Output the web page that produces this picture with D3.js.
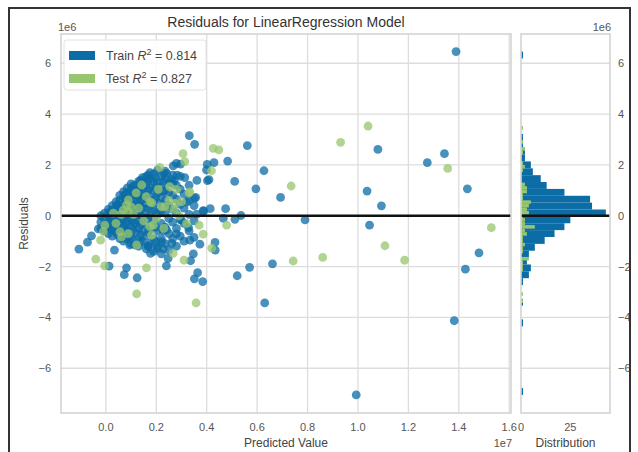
<!DOCTYPE html>
<html>
<head>
<meta charset="utf-8">
<script src="https://cdn.jsdelivr.net/npm/d3@7"></script>
<style>
  body { margin: 0; background: #fff; }
  text { font-family: "Liberation Sans", Arial, sans-serif; }
</style>
</head>
<body>
<div id="chart"></div>
<script>
// predicted values in units of 1e7, residuals in units of 1e6

// train points far from the dense blob
var trainSparse = [
  [1.389, 6.46], [0.331, 3.15], [0.352, 2.81], [0.561, 2.76], [1.079, 2.61], [1.343, 2.44],
  [1.275, 2.09], [0.483, 2.15], [0.627, 1.77], [0.429, 2.09], [0.402, 2.02], [0.511, 1.35],
  [0.595, 1.06], [0.693, 0.72], [1.036, 0.97], [1.434, 1.06], [1.093, 0.39], [0.475, 0.28],
  [0.536, 0.01], [0.512, -0.14], [0.466, -0.1], [0.79, -0.16], [1.046, -0.37], [1.48, -1.46],
  [1.426, -2.1], [1.382, -4.13], [0.993, -7.05], [0.57, -2.03], [0.661, -1.89], [0.521, -2.36],
  [0.63, -3.43], [0.364, -2.24], [0.351, -2.48], [0.384, -2.59], [0.336, -1.77], [0.347, -1.5],
  [0.373, -1.12], [0.433, -1.05], [0.434, -1.35], [0.328, -0.47], [0.28, -0.71], [0.24, -1.97],
  [0.247, -1.68], [0.124, -2.44], [0.073, -2.32], [0.082, -2.05], [0.013, -1.98], [0.034, -1.35],
  [-0.107, -1.31], [-0.073, -1.04], [-0.057, -0.79], [-0.03, -0.52], [0.361, 1.39], [0.409, 1.42],
  [0.313, 1.5], [0.356, 0.72], [0.388, 0.18], [0.36, 0.06], [0.267, 1.96], [0.296, 2.03],
  [0.23, 1.67], [0.283, 1.6], [0.399, 1.8], [0.26, 1.43], [0.32, 0.54], [0.3, -0.17],
  [0.333, -0.96], [0.261, -1.09], [0.221, -1.02], [0.204, -1.29], [0.177, -1.48], [0.168, -1.19],
  [0.095, -1.15], [0.241, -0.56], [0.27, 1.36], [0.351, 0.68], [0.386, 0.2], [0.28, 2.06],
  [0.241, 1.67], [0.414, 0.28], [0.403, 1.38]
];

// train points in the dense blob near the origin
var trainBlob = [
  [-0.02, -0.25], [-0.02, 0.0], [-0.02, -0.5],
  [-0.005, -0.6], [-0.005, -0.35], [-0.005, -0.1], [-0.005, 0.1],
  [0.01, -0.7], [0.01, -0.45], [0.01, -0.2], [0.01, 0.05], [0.01, 0.25],
  [0.025, -0.8], [0.025, -0.55], [0.025, -0.3], [0.025, -0.05], [0.025, 0.2], [0.025, 0.4],
  [0.04, -0.65], [0.04, -0.4], [0.04, -0.15], [0.04, 0.1], [0.04, 0.35], [0.04, 0.55],
  [0.055, -0.9], [0.055, -0.6], [0.055, -0.3], [0.055, 0.0], [0.055, 0.3], [0.055, 0.6], [0.055, 0.8],
  [0.07, -1.0], [0.07, -0.75], [0.07, -0.45], [0.07, -0.15], [0.07, 0.15], [0.07, 0.45], [0.07, 0.75], [0.07, 0.95],
  [0.085, -0.85], [0.085, -0.55], [0.085, -0.25], [0.085, 0.05], [0.085, 0.35], [0.085, 0.65], [0.085, 0.9], [0.085, 1.1],
  [0.1, -1.1], [0.1, -0.8], [0.1, -0.4], [0.1, -0.1], [0.1, 0.2], [0.1, 0.5], [0.1, 0.8], [0.1, 1.05], [0.1, 1.25],
  [0.115, -1.15], [0.115, -0.65], [0.115, -0.3], [0.115, 0.0], [0.115, 0.3], [0.115, 0.6], [0.115, 0.95], [0.115, 1.2],
  [0.13, -1.2], [0.13, -0.9], [0.13, -0.5], [0.13, -0.2], [0.13, 0.15], [0.13, 0.45], [0.13, 0.75], [0.13, 1.05], [0.13, 1.35],
  [0.145, -1.0], [0.145, -0.6], [0.145, -0.05], [0.145, 0.3], [0.145, 0.65], [0.145, 1.0], [0.145, 1.3], [0.145, 1.5],
  [0.16, -1.3], [0.16, -0.8], [0.16, -0.35], [0.16, 0.1], [0.16, 0.5], [0.16, 0.85], [0.16, 1.2], [0.16, 1.55],
  [0.175, -1.1], [0.175, -0.55], [0.175, 0.0], [0.175, 0.4], [0.175, 0.75], [0.175, 1.1], [0.175, 1.45], [0.175, 1.7],
  [0.19, -1.4], [0.19, -0.9], [0.19, -0.2], [0.19, 0.25], [0.19, 0.6], [0.19, 1.0], [0.19, 1.35], [0.19, 1.65],
  [0.205, -1.2], [0.205, -0.6], [0.205, 0.05], [0.205, 0.5], [0.205, 0.9], [0.205, 1.3], [0.205, 1.8],
  [0.22, -1.5], [0.22, -0.9], [0.22, -0.3], [0.22, 0.2], [0.22, 0.75], [0.22, 1.15], [0.22, 1.55],
  [0.235, -1.1], [0.235, -0.45], [0.235, 0.1], [0.235, 0.6], [0.235, 1.0], [0.235, 1.45], [0.235, 1.75],
  [0.25, -1.35], [0.25, -0.7], [0.25, -0.1], [0.25, 0.4], [0.25, 0.9], [0.25, 1.3],
  [0.265, -0.9], [0.265, -0.25], [0.265, 0.25], [0.265, 0.8], [0.265, 1.25], [0.265, 1.6],
  [0.28, -1.2], [0.28, -0.5], [0.28, 0.1], [0.28, 0.65], [0.28, 1.2],
  [0.295, -0.8], [0.295, -0.15], [0.295, 0.45], [0.295, 1.05], [0.295, 1.55],
  [0.31, -1.0], [0.31, -0.3], [0.31, 0.3], [0.31, 0.85],
  [0.33, -0.6], [0.33, 0.05], [0.33, 0.6], [0.33, 1.2],
  [0.35, -0.85], [0.35, -0.2], [0.35, 0.4],
  [0.0175, -0.55], [0.0175, -0.3], [0.0175, -0.05], [0.0175, 0.15],
  [0.0475, -0.75], [0.0475, -0.5], [0.0475, -0.2], [0.0475, 0.2], [0.0475, 0.45],
  [0.0775, -0.9], [0.0775, -0.6], [0.0775, -0.3], [0.0775, 0.0], [0.0775, 0.3], [0.0775, 0.6], [0.0775, 0.85],
  [0.1075, -0.95], [0.1075, -0.55], [0.1075, -0.2], [0.1075, 0.1], [0.1075, 0.4], [0.1075, 0.7], [0.1075, 1.0], [0.1075, 1.15],
  [0.1375, -1.05], [0.1375, -0.75], [0.1375, -0.35], [0.1375, 0.0], [0.1375, 0.35], [0.1375, 0.6], [0.1375, 0.9], [0.1375, 1.2], [0.1375, 1.4],
  [0.1675, -1.2], [0.1675, -0.65], [0.1675, -0.1], [0.1675, 0.3], [0.1675, 0.65], [0.1675, 1.0], [0.1675, 1.35], [0.1675, 1.6],
  [0.1975, -1.05], [0.1975, -0.45], [0.1975, 0.15], [0.1975, 0.7], [0.1975, 1.15], [0.1975, 1.5],
  [0.2275, -1.3], [0.2275, -0.6], [0.2275, 0.45], [0.2275, 0.95], [0.2275, 1.35]
];

var testPoints = [
  [1.04, 3.53], [0.931, 2.89], [1.356, 1.86], [0.735, 1.17], [0.426, 2.65], [0.448, 2.59],
  [0.306, 2.44], [0.313, 2.13], [1.529, -0.47], [1.107, -1.18], [1.185, -1.75], [0.86, -1.64],
  [0.743, -1.78], [0.479, -0.37], [0.42, -1.27], [0.386, -0.72], [0.37, -0.37], [0.358, -3.43],
  [0.122, -3.07], [0.161, -2.05], [-0.005, -1.97], [-0.04, -1.71], [-0.021, -0.96], [0.31, -1.75],
  [0.267, -1.48], [0.419, 1.77], [0.333, 0.94], [0.214, 1.9], [0.28, 1.04], [0.274, 0.49],
  [0.234, 0.35], [0.175, 0.55], [0.142, 1.21], [0.089, 0.62], [0.181, -0.76], [0.175, -0.43],
  [0.122, -1.15], [0.062, -0.83],
  [0.082, 0.42], [0.069, 0.22], [0.089, 0.16], [0.208, 1.04], [0.254, 1.14], [0.182, 0.51],
  [0.12, 0.9], [0.16, 0.75], [0.22, 0.36], [0.25, 0.6], [0.27, 0.25], [-0.004, -0.37],
  [-0.01, -0.63], [0.056, -0.63], [0.089, -0.7], [0.04, -0.3], [0.188, -0.37], [0.2, -0.1],
  [0.03, 0.1], [0.11, 0.05], [0.15, -0.2], [0.23, -0.5], [0.29, 0.0], [0.3, 0.55],
  [0.33, 0.9], [0.1, 0.35], [0.06, 0.05], [0.13, 0.3], [0.32, -0.3]
];

// train residual histogram, 50 bins from lowest to highest residual
var trainCounts = [
  1, 0, 0, 0, 0, 0, 0, 0, 0, 0,
  1, 0, 0, 1, 0, 0, 1, 4, 5, 3,
  4, 7, 12, 17, 22, 25, 43, 36, 35, 22,
  13, 10, 6, 5, 2, 2, 1, 1, 0, 0,
  0, 0, 0, 0, 0, 0, 0, 0, 0, 1
];

var xTicks = [0, 0.2, 0.4, 0.6, 0.8, 1.0, 1.2, 1.4, 1.6];
var yTicks = [-6, -4, -2, 0, 2, 4, 6];
var histTicks = [0, 25];
var trainR2 = '0.814';
var testR2 = '0.827';

var trainColor = '#0b6ca6';
var testColor = '#97c66f';

var svgWidth = 638;
var svgHeight = 452;

var svg = d3.select('#chart')
    .append('svg')
    .attr('width', svgWidth)
    .attr('height', svgHeight);

svg.append('rect')
    .attr('width', svgWidth)
    .attr('height', svgHeight)
    .attr('fill', '#fff');

// main plot area
var plotLeft = 61, plotRight = 511, plotTop = 34, plotBottom = 413;
var histLeft = 521, histRight = 610;

var trainPoints = trainSparse.concat(trainBlob);

var x = d3.scaleLinear().domain([-0.178, 1.607]).range([plotLeft, plotRight]);
var y = d3.scaleLinear().domain([-7.76, 7.15]).range([plotBottom, plotTop]);
var hx = d3.scaleLinear().domain([0, 45.1]).range([histLeft, histRight]);

var gridColor = '#dddddd';
var labelColor = '#555';

// grid
var grid = svg.append('g');
grid.selectAll('.vx')
    .data(xTicks)
    .enter()
    .append('line')
    .attr('x1', d => x(d)).attr('x2', d => x(d))
    .attr('y1', plotTop).attr('y2', plotBottom)
    .attr('stroke', gridColor)
    .attr('stroke-width', 1.3);
grid.selectAll('.hy')
    .data(yTicks)
    .enter()
    .append('line')
    .attr('x1', plotLeft).attr('x2', plotRight)
    .attr('y1', d => y(d)).attr('y2', d => y(d))
    .attr('stroke', gridColor)
    .attr('stroke-width', 1.3);
grid.selectAll('.hh')
    .data(yTicks)
    .enter()
    .append('line')
    .attr('x1', histLeft).attr('x2', histRight)
    .attr('y1', d => y(d)).attr('y2', d => y(d))
    .attr('stroke', gridColor)
    .attr('stroke-width', 1.3);

// scatter: train then test
svg.append('g')
    .selectAll('circle')
    .data(trainPoints)
    .enter()
    .append('circle')
    .attr('cx', d => x(d[0]))
    .attr('cy', d => y(d[1]))
    .attr('r', 4.4)
    .attr('fill', trainColor)
    .attr('fill-opacity', 0.75);

svg.append('g')
    .selectAll('circle')
    .data(testPoints)
    .enter()
    .append('circle')
    .attr('cx', d => x(d[0]))
    .attr('cy', d => y(d[1]))
    .attr('r', 4.4)
    .attr('fill', testColor)
    .attr('fill-opacity', 0.75);

// histogram of train residuals
var trainRes = trainPoints.map(d => d[1]);
var tMin = d3.min(trainRes), tMax = d3.max(trainRes);
var tW = (tMax - tMin) / trainCounts.length;

svg.append('g')
    .selectAll('rect')
    .data(trainCounts)
    .enter()
    .append('rect')
    .attr('x', hx(0))
    .attr('y', (d, i) => y(tMin + (i + 1) * tW))
    .attr('width', d => hx(d) - hx(0))
    .attr('height', (d, i) => y(tMin + i * tW) - y(tMin + (i + 1) * tW))
    .attr('fill', trainColor);

// histogram of test residuals, 50 bins over its own range
var testRes = testPoints.map(d => d[1]);
var sMin = d3.min(testRes), sMax = d3.max(testRes);
var sW = (sMax - sMin) / 50;
var testBins = d3.bin()
    .domain([sMin, sMax])
    .thresholds(d3.range(1, 50).map(i => sMin + i * sW))(testRes);

svg.append('g')
    .selectAll('rect')
    .data(testBins)
    .enter()
    .append('rect')
    .attr('x', hx(0))
    .attr('y', d => y(d.x1))
    .attr('width', d => hx(d.length) - hx(0))
    .attr('height', d => y(d.x0) - y(d.x1))
    .attr('fill', testColor);

// zero lines
svg.append('line')
    .attr('x1', plotLeft).attr('x2', plotRight)
    .attr('y1', y(0)).attr('y2', y(0))
    .attr('stroke', '#111')
    .attr('stroke-width', 2.5);
svg.append('line')
    .attr('x1', histLeft).attr('x2', histRight)
    .attr('y1', y(0)).attr('y2', y(0))
    .attr('stroke', '#111')
    .attr('stroke-width', 2.5);

// frames
svg.append('rect')
    .attr('x', plotLeft).attr('y', plotTop)
    .attr('width', plotRight - plotLeft).attr('height', plotBottom - plotTop)
    .attr('fill', 'none')
    .attr('stroke', '#d4d4d4')
    .attr('stroke-width', 1.6);
svg.append('rect')
    .attr('x', histLeft).attr('y', plotTop)
    .attr('width', histRight - histLeft).attr('height', plotBottom - plotTop)
    .attr('fill', 'none')
    .attr('stroke', '#d4d4d4')
    .attr('stroke-width', 1.6);

// tick labels
svg.append('g')
    .selectAll('text')
    .data(xTicks)
    .enter()
    .append('text')
    .attr('x', d => x(d))
    .attr('y', 431)
    .attr('text-anchor', 'middle')
    .attr('font-size', 11)
    .attr('fill', labelColor)
    .text(d => d.toFixed(1));

svg.append('g')
    .selectAll('text')
    .data(histTicks)
    .enter()
    .append('text')
    .attr('x', d => hx(d))
    .attr('y', 431)
    .attr('text-anchor', 'middle')
    .attr('font-size', 11)
    .attr('fill', labelColor)
    .text(d => d);

var fmtY = d => d < 0 ? '\u2212' + Math.abs(d) : String(d);

svg.append('g')
    .selectAll('text')
    .data(yTicks)
    .enter()
    .append('text')
    .attr('x', 51)
    .attr('y', d => y(d) + 4)
    .attr('text-anchor', 'end')
    .attr('font-size', 11)
    .attr('fill', labelColor)
    .text(fmtY);

svg.append('g')
    .selectAll('text')
    .data(yTicks)
    .enter()
    .append('text')
    .attr('x', 618)
    .attr('y', d => y(d) + 4)
    .attr('text-anchor', 'start')
    .attr('font-size', 11)
    .attr('fill', labelColor)
    .text(fmtY);

// offset labels
svg.append('text')
    .attr('x', 58).attr('y', 31)
    .attr('font-size', 11).attr('fill', labelColor)
    .text('1e6');
svg.append('text')
    .attr('x', 611).attr('y', 31)
    .attr('text-anchor', 'end')
    .attr('font-size', 11).attr('fill', labelColor)
    .text('1e6');
svg.append('text')
    .attr('x', 512).attr('y', 447)
    .attr('text-anchor', 'end')
    .attr('font-size', 11).attr('fill', labelColor)
    .text('1e7');

// axis labels and title
svg.append('text')
    .attr('x', (plotLeft + plotRight) / 2).attr('y', 447)
    .attr('text-anchor', 'middle')
    .attr('font-size', 12).attr('fill', '#444')
    .text('Predicted Value');
svg.append('text')
    .attr('x', (histLeft + histRight) / 2).attr('y', 447)
    .attr('text-anchor', 'middle')
    .attr('font-size', 12).attr('fill', '#444')
    .text('Distribution');
svg.append('text')
    .attr('transform', `translate(28,${(plotTop + plotBottom) / 2}) rotate(-90)`)
    .attr('text-anchor', 'middle')
    .attr('font-size', 12).attr('fill', '#444')
    .text('Residuals');
svg.append('text')
    .attr('x', (plotLeft + plotRight) / 2).attr('y', 27)
    .attr('text-anchor', 'middle')
    .attr('font-size', 14).attr('fill', '#333')
    .text('Residuals for LinearRegression Model');

// legend
var legend = svg.append('g');
legend.append('rect')
    .attr('x', 64).attr('y', 40)
    .attr('width', 142).attr('height', 50)
    .attr('rx', 3)
    .attr('fill', '#fff').attr('fill-opacity', 0.85)
    .attr('stroke', '#e2e2e2');

var legendItems = [['Train', trainR2, trainColor], ['Test', testR2, testColor]];
legendItems.forEach(function(item, i) {
    var ly = 56 + i * 23;
    legend.append('rect')
        .attr('x', 69).attr('y', ly - 5)
        .attr('width', 26).attr('height', 9)
        .attr('fill', item[2]);
    var t = legend.append('text')
        .attr('x', 106).attr('y', ly + 4)
        .attr('font-size', 12.5).attr('fill', '#444');
    t.append('tspan').text(item[0] + ' ');
    t.append('tspan').attr('font-style', 'italic').text('R');
    t.append('tspan').attr('dy', -5).attr('font-size', 9).text('2');
    t.append('tspan').attr('dy', 5).text(' = ' + item[1]);
});

// outer frame around the figure
svg.append('path')
    .attr('d', 'M9,460 L9,8 L630,8 L630,460')
    .attr('fill', 'none')
    .attr('stroke', '#333')
    .attr('stroke-width', 2);
</script>
</body>
</html>
